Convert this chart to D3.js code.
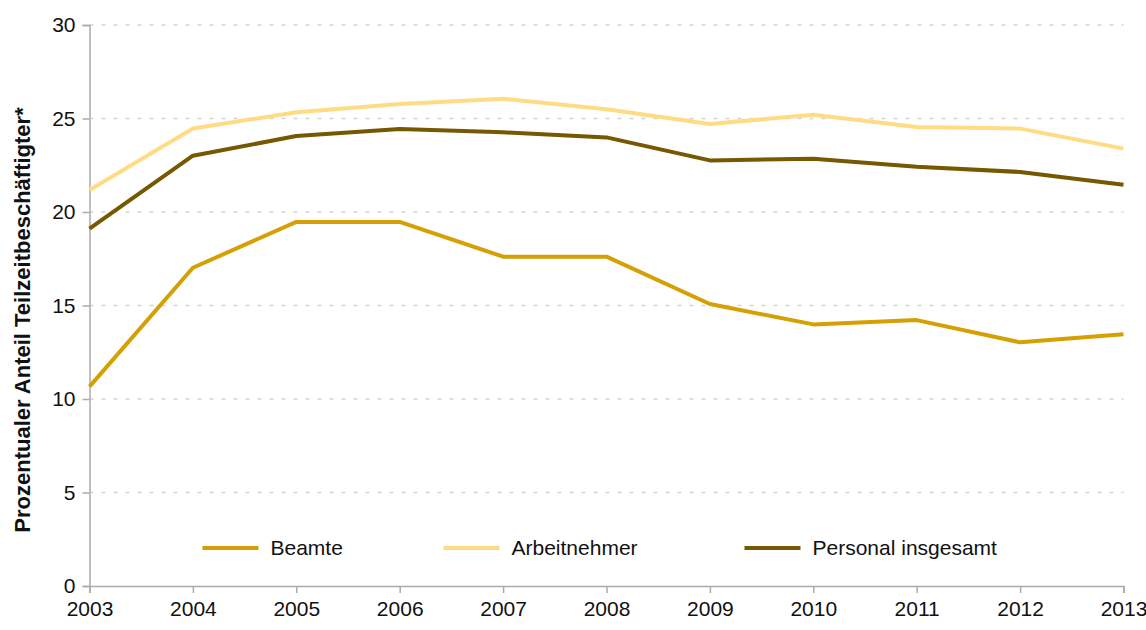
<!DOCTYPE html>
<html>
<head>
<meta charset="utf-8">
<script src="https://cdn.jsdelivr.net/npm/d3@7"></script>
<style>
  body { margin: 0; background: #fff; }
  text { font-family: "Liberation Sans", Arial, sans-serif; fill: #111; }
</style>
</head>
<body>
<div id="canvas"></div>
<script>
// data
const years = [2003, 2004, 2005, 2006, 2007, 2008, 2009, 2010, 2011, 2012, 2013];
const beamte = [10.66, 17.02, 19.47, 19.47, 17.61, 17.61, 15.08, 13.99, 14.22, 13.03, 13.46];
const arbeitnehmer = [21.18, 24.47, 25.33, 25.78, 26.06, 25.49, 24.71, 25.2, 24.55, 24.46, 23.39];
const personal = [19.11, 23.01, 24.06, 24.44, 24.26, 23.99, 22.76, 22.85, 22.42, 22.14, 21.46];
const yTicks = [0, 5, 10, 15, 20, 25, 30];
const seriesNames = ["Beamte", "Arbeitnehmer", "Personal insgesamt"];
const seriesColors = ["#d4a004", "#ffdc84", "#765800"];

let margin = { top: 25, right: 22, bottom: 44, left: 89.5 },
  width = 1146 - margin.left - margin.right,
  height = 630 - margin.top - margin.bottom;

let svg = d3
  .select("#canvas")
  .append("svg")
  .attr("width", 1146)
  .attr("height", 630)
  .append("g")
  .attr("transform", "translate(" + margin.left + "," + margin.top + ")");

let xScale = d3.scaleLinear().domain([2003, 2013]).range([0, 1034]);
let yScale = d3.scaleLinear().domain([0, 30]).range([561, 0]);

// dashed gridlines
svg.selectAll(".grid")
  .data(yTicks.filter(d => d > 0))
  .enter()
  .append("line")
  .attr("class", "grid")
  .attr("x1", 0)
  .attr("x2", xScale(2013))
  .attr("y1", d => yScale(d))
  .attr("y2", d => yScale(d))
  .attr("stroke", "#d4d4d4")
  .attr("stroke-width", 1.5)
  .attr("stroke-dasharray", "4,8");

// y axis
let yAxis = svg.append("g")
  .attr("class", "y-axis")
  .call(d3.axisLeft(yScale).tickValues(yTicks).tickSize(7).tickPadding(7));

// x axis
let xAxis = svg.append("g")
  .attr("class", "x-axis")
  .attr("transform", "translate(0," + yScale(0) + ")")
  .call(d3.axisBottom(xScale).tickValues(years).tickFormat(d3.format("d")).tickSize(7).tickPadding(8));

svg.selectAll(".y-axis, .x-axis").selectAll("path, line")
  .attr("stroke", "#ababab")
  .attr("stroke-width", 1.5);
svg.selectAll(".y-axis, .x-axis").selectAll("text")
  .style("font-family", "'Liberation Sans', Arial, sans-serif")
  .style("font-size", "21px")
  .attr("fill", "#111");
xAxis.selectAll("text").attr("dy", "0.71em");

// lines
let allSeries = [beamte, arbeitnehmer, personal];
let line = d3.line()
  .x((d, i) => xScale(years[i]))
  .y(d => yScale(d));

// draw Beamte first, then Arbeitnehmer, then Personal on top
svg.selectAll(".series")
  .data(allSeries)
  .enter()
  .append("path")
  .attr("class", "series")
  .attr("d", line)
  .attr("fill", "none")
  .attr("stroke", (d, i) => seriesColors[i])
  .attr("stroke-width", 4)
  .attr("stroke-linejoin", "round");

// legend
const legendX = [113, 354, 655];
let legend = svg.selectAll(".legend")
  .data(seriesNames)
  .enter()
  .append("g")
  .attr("class", "legend")
  .attr("transform", (d, i) => "translate(" + legendX[i] + "," + (548 - margin.top) + ")");

legend.append("line")
  .attr("x1", 0)
  .attr("x2", 56)
  .attr("stroke", (d, i) => seriesColors[i])
  .attr("stroke-width", 4);

legend.append("text")
  .attr("x", 68)
  .attr("dy", "0.35em")
  .style("font-size", "21px")
  .text(d => d);

// y axis title
d3.select("svg").append("text")
  .attr("transform", "translate(30,320) rotate(-90)")
  .attr("text-anchor", "middle")
  .style("font-size", "22px")
  .style("font-weight", "bold")
  .text("Prozentualer Anteil Teilzeitbeschäftigter*");
</script>
</body>
</html>
